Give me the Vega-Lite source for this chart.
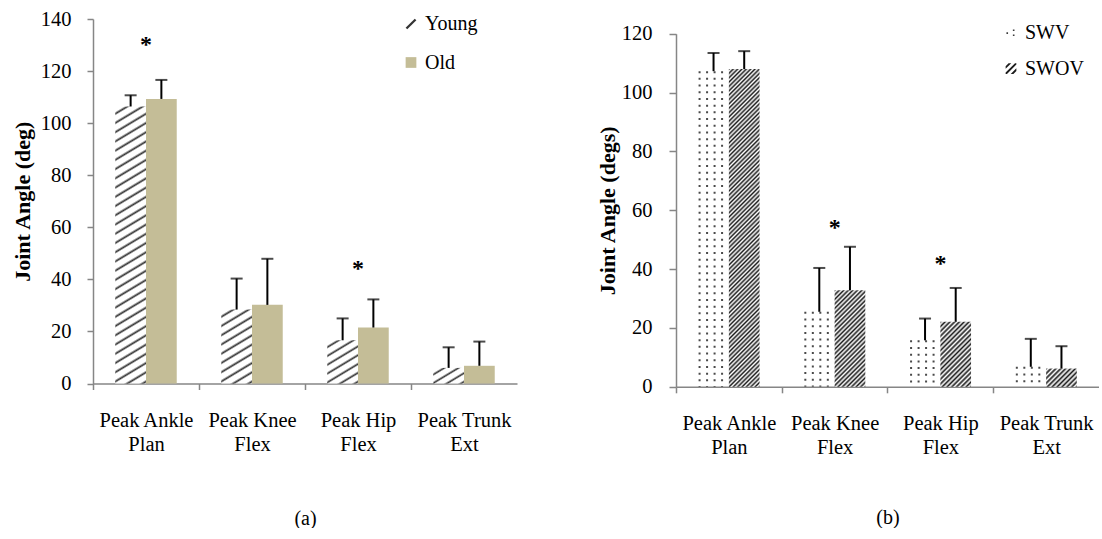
{
  "$schema": "https://vega.github.io/schema/vega-lite/v6.json",
  "padding": {"left": 11, "top": 9, "right": 0, "bottom": 0},
  "spacing": 79,
  "resolve": {"scale": {"color": "independent", "shape": "independent", "xOffset": "independent", "x": "independent", "y": "independent"}, "legend": {"color": "independent", "shape": "independent"}},
  "config": {
    "font": "Liberation Serif",
    "view": {"stroke": null},
    "axis": {"labelFont": "Liberation Serif", "titleFont": "Liberation Serif", "labelColor": "#000", "titleColor": "#000", "domainColor": "#868686", "tickColor": "#868686", "grid": false, "domainWidth": 1.5, "tickWidth": 1.5},
    "legend": {"labelFont": "Liberation Serif", "labelColor": "#000"}
  },
  "datasets": {
    "a": [
      {"cat": "Peak Ankle Plan", "group": "Young", "value": 106.4, "hi": 110.7},
      {"cat": "Peak Ankle Plan", "group": "Old", "value": 109.3, "hi": 116.6},
      {"cat": "Peak Knee Flex", "group": "Young", "value": 28.4, "hi": 40.3},
      {"cat": "Peak Knee Flex", "group": "Old", "value": 30.2, "hi": 47.9},
      {"cat": "Peak Hip Flex", "group": "Young", "value": 16.6, "hi": 25.0},
      {"cat": "Peak Hip Flex", "group": "Old", "value": 21.5, "hi": 32.3},
      {"cat": "Peak Trunk Ext", "group": "Young", "value": 6.0, "hi": 13.9},
      {"cat": "Peak Trunk Ext", "group": "Old", "value": 6.8, "hi": 16.1}
    ],
    "b": [
      {"cat": "Peak Ankle Plan", "group": "SWV", "value": 107.3, "hi": 113.5},
      {"cat": "Peak Ankle Plan", "group": "SWOV", "value": 108.0, "hi": 114.1},
      {"cat": "Peak Knee Flex", "group": "SWV", "value": 25.5, "hi": 40.4},
      {"cat": "Peak Knee Flex", "group": "SWOV", "value": 32.8, "hi": 47.6},
      {"cat": "Peak Hip Flex", "group": "SWV", "value": 15.8, "hi": 23.2},
      {"cat": "Peak Hip Flex", "group": "SWOV", "value": 22.1, "hi": 33.6},
      {"cat": "Peak Trunk Ext", "group": "SWV", "value": 6.8, "hi": 16.3},
      {"cat": "Peak Trunk Ext", "group": "SWOV", "value": 6.2, "hi": 13.8}
    ],
    "starsA": [
      {"cat": "Peak Ankle Plan", "value": 132, "label": "*"},
      {"cat": "Peak Hip Flex", "value": 46, "label": "*"}
    ],
    "starsB": [
      {"cat": "Peak Knee Flex", "value": 55.8, "label": "*"},
      {"cat": "Peak Hip Flex", "value": 43.3, "label": "*"}
    ]
  },
  "hconcat": [
    {
      "width": 424,
      "height": 364.5,
      "data": {"name": "a"},
      "encoding": {
        "x": {"field": "cat", "type": "nominal", "sort": ["Peak Ankle Plan", "Peak Knee Flex", "Peak Hip Flex", "Peak Trunk Ext"], "scale": {"paddingInner": 0.42, "paddingOuter": 0.21},
          "axis": {"title": "(a)", "labelAngle": 0, "labelExpr": "[slice(datum.value, 0, lastindexof(datum.value, ' ')), slice(datum.value, lastindexof(datum.value, ' ') + 1)]", "labelLineHeight": 24, "labelPadding": 21, "labelFontSize": 20.5, "titleFontSize": 20, "titleFontWeight": "normal", "titlePadding": 53, "tickOffset": -53, "labelOffset": 53, "tickSize": 6}},
        "y": {"field": "value", "type": "quantitative", "scale": {"domain": [0, 140], "nice": false},
          "axis": {"title": "Joint Angle (deg)", "values": [0, 20, 40, 60, 80, 100, 120, 140], "tickSize": 6, "labelPadding": 16, "titlePadding": 6, "titleFontSize": 22, "titleFontWeight": "bold", "labelFontSize": 20.5}}
      },
      "layer": [
        {
          "mark": {"type": "point", "filled": true, "fillOpacity": 0, "strokeOpacity": 0, "strokeWidth": 0},
          "encoding": {
            "xOffset": {"field": "group", "type": "nominal", "scale": {"domain": ["Young", "Old"], "paddingInner": 0, "paddingOuter": 0}},
            "color": {"field": "group", "type": "nominal", "scale": {"domain": ["Young", "Old"], "range": ["#333333", "#C4BD97"]},
              "legend": {"orient": "none", "legendX": 308, "legendY": -5, "title": null, "direction": "vertical", "labelFontSize": 20, "symbolSize": 115, "symbolStrokeWidth": 0, "symbolOpacity": 1, "symbolFillColor": "#333333", "labelOffset": 4, "rowPadding": 18.5, "padding": 0}},
            "shape": {"field": "group", "type": "nominal", "scale": {"domain": ["Young", "Old"], "range": ["M-1,0.7L0.7,-1L1,-0.7L-0.7,1Z", "square"]}}
          }
        },
        {
          "transform": [{"filter": "datum.group === 'Old'"}],
          "mark": {"type": "bar", "color": "#C4BD97"},
          "encoding": {"xOffset": {"field": "group", "type": "nominal"}}
        },
        {
          "transform": [{"filter": "datum.group === 'Young' && datum.cat === 'Peak Ankle Plan'"}],
          "mark": {"type": "bar", "color": {"gradient": "linear", "x1": 0, "y1": 0, "x2": 0.0707, "y2": 1.0619, "stops": [
            {"offset": 0, "color": "#fff"}, {"offset": 0.0172, "color": "#fff"}, {"offset": 0.025, "color": "#333"},
            {"offset": 0.0313, "color": "#fff"}, {"offset": 0.0484, "color": "#fff"}, {"offset": 0.0563, "color": "#333"},
            {"offset": 0.0625, "color": "#fff"}, {"offset": 0.0797, "color": "#fff"}, {"offset": 0.0875, "color": "#333"},
            {"offset": 0.0938, "color": "#fff"}, {"offset": 0.1109, "color": "#fff"}, {"offset": 0.1188, "color": "#333"},
            {"offset": 0.125, "color": "#fff"}, {"offset": 0.1422, "color": "#fff"}, {"offset": 0.15, "color": "#333"},
            {"offset": 0.1563, "color": "#fff"}, {"offset": 0.1734, "color": "#fff"}, {"offset": 0.1813, "color": "#333"},
            {"offset": 0.1875, "color": "#fff"}, {"offset": 0.2047, "color": "#fff"}, {"offset": 0.2125, "color": "#333"},
            {"offset": 0.2188, "color": "#fff"}, {"offset": 0.2359, "color": "#fff"}, {"offset": 0.2438, "color": "#333"},
            {"offset": 0.25, "color": "#fff"}, {"offset": 0.2672, "color": "#fff"}, {"offset": 0.275, "color": "#333"},
            {"offset": 0.2813, "color": "#fff"}, {"offset": 0.2984, "color": "#fff"}, {"offset": 0.3063, "color": "#333"},
            {"offset": 0.3125, "color": "#fff"}, {"offset": 0.3297, "color": "#fff"}, {"offset": 0.3375, "color": "#333"},
            {"offset": 0.3438, "color": "#fff"}, {"offset": 0.3609, "color": "#fff"}, {"offset": 0.3688, "color": "#333"},
            {"offset": 0.375, "color": "#fff"}, {"offset": 0.3922, "color": "#fff"}, {"offset": 0.4, "color": "#333"},
            {"offset": 0.4063, "color": "#fff"}, {"offset": 0.4234, "color": "#fff"}, {"offset": 0.4313, "color": "#333"},
            {"offset": 0.4375, "color": "#fff"}, {"offset": 0.4547, "color": "#fff"}, {"offset": 0.4625, "color": "#333"},
            {"offset": 0.4688, "color": "#fff"}, {"offset": 0.4859, "color": "#fff"}, {"offset": 0.4938, "color": "#333"},
            {"offset": 0.5, "color": "#fff"}, {"offset": 0.5172, "color": "#fff"}, {"offset": 0.525, "color": "#333"},
            {"offset": 0.5313, "color": "#fff"}, {"offset": 0.5484, "color": "#fff"}, {"offset": 0.5563, "color": "#333"},
            {"offset": 0.5625, "color": "#fff"}, {"offset": 0.5797, "color": "#fff"}, {"offset": 0.5875, "color": "#333"},
            {"offset": 0.5938, "color": "#fff"}, {"offset": 0.6109, "color": "#fff"}, {"offset": 0.6188, "color": "#333"},
            {"offset": 0.625, "color": "#fff"}, {"offset": 0.6422, "color": "#fff"}, {"offset": 0.65, "color": "#333"},
            {"offset": 0.6563, "color": "#fff"}, {"offset": 0.6734, "color": "#fff"}, {"offset": 0.6813, "color": "#333"},
            {"offset": 0.6875, "color": "#fff"}, {"offset": 0.7047, "color": "#fff"}, {"offset": 0.7125, "color": "#333"},
            {"offset": 0.7188, "color": "#fff"}, {"offset": 0.7359, "color": "#fff"}, {"offset": 0.7438, "color": "#333"},
            {"offset": 0.75, "color": "#fff"}, {"offset": 0.7672, "color": "#fff"}, {"offset": 0.775, "color": "#333"},
            {"offset": 0.7813, "color": "#fff"}, {"offset": 0.7984, "color": "#fff"}, {"offset": 0.8063, "color": "#333"},
            {"offset": 0.8125, "color": "#fff"}, {"offset": 0.8297, "color": "#fff"}, {"offset": 0.8375, "color": "#333"},
            {"offset": 0.8438, "color": "#fff"}, {"offset": 0.8609, "color": "#fff"}, {"offset": 0.8688, "color": "#333"},
            {"offset": 0.875, "color": "#fff"}, {"offset": 0.8922, "color": "#fff"}, {"offset": 0.9, "color": "#333"},
            {"offset": 0.9063, "color": "#fff"}, {"offset": 0.9234, "color": "#fff"}, {"offset": 0.9313, "color": "#333"},
            {"offset": 0.9375, "color": "#fff"}, {"offset": 0.9547, "color": "#fff"}, {"offset": 0.9625, "color": "#333"},
            {"offset": 0.9688, "color": "#fff"}, {"offset": 0.9859, "color": "#fff"}, {"offset": 0.9938, "color": "#333"},
            {"offset": 1, "color": "#fff"}]}},
          "encoding": {"xOffset": {"field": "group", "type": "nominal"}}
        },
        {
          "transform": [{"filter": "datum.group === 'Young' && datum.cat === 'Peak Knee Flex'"}],
          "mark": {"type": "bar", "color": {"gradient": "linear", "x1": 0, "y1": 0, "x2": 0.2932, "y2": 1.1762, "stops": [
            {"offset": 0, "color": "#fff"}, {"offset": 0.055, "color": "#fff"}, {"offset": 0.08, "color": "#333"},
            {"offset": 0.1, "color": "#fff"}, {"offset": 0.155, "color": "#fff"}, {"offset": 0.18, "color": "#333"},
            {"offset": 0.2, "color": "#fff"}, {"offset": 0.255, "color": "#fff"}, {"offset": 0.28, "color": "#333"},
            {"offset": 0.3, "color": "#fff"}, {"offset": 0.355, "color": "#fff"}, {"offset": 0.38, "color": "#333"},
            {"offset": 0.4, "color": "#fff"}, {"offset": 0.455, "color": "#fff"}, {"offset": 0.48, "color": "#333"},
            {"offset": 0.5, "color": "#fff"}, {"offset": 0.555, "color": "#fff"}, {"offset": 0.58, "color": "#333"},
            {"offset": 0.6, "color": "#fff"}, {"offset": 0.655, "color": "#fff"}, {"offset": 0.68, "color": "#333"},
            {"offset": 0.7, "color": "#fff"}, {"offset": 0.755, "color": "#fff"}, {"offset": 0.78, "color": "#333"},
            {"offset": 0.8, "color": "#fff"}, {"offset": 0.855, "color": "#fff"}, {"offset": 0.88, "color": "#333"},
            {"offset": 0.9, "color": "#fff"}, {"offset": 0.955, "color": "#fff"}, {"offset": 0.98, "color": "#333"},
            {"offset": 1, "color": "#fff"}]}},
          "encoding": {"xOffset": {"field": "group", "type": "nominal"}}
        },
        {
          "transform": [{"filter": "datum.group === 'Young' && datum.cat === 'Peak Hip Flex'"}],
          "mark": {"type": "bar", "color": {"gradient": "linear", "x1": 0, "y1": 0, "x2": 0.5155, "y2": 1.2069, "stops": [
            {"offset": 0, "color": "#fff"}, {"offset": 0.0786, "color": "#fff"}, {"offset": 0.1143, "color": "#333"},
            {"offset": 0.1429, "color": "#fff"}, {"offset": 0.2214, "color": "#fff"}, {"offset": 0.2571, "color": "#333"},
            {"offset": 0.2857, "color": "#fff"}, {"offset": 0.3643, "color": "#fff"}, {"offset": 0.4, "color": "#333"},
            {"offset": 0.4286, "color": "#fff"}, {"offset": 0.5071, "color": "#fff"}, {"offset": 0.5429, "color": "#333"},
            {"offset": 0.5714, "color": "#fff"}, {"offset": 0.65, "color": "#fff"}, {"offset": 0.6857, "color": "#333"},
            {"offset": 0.7143, "color": "#fff"}, {"offset": 0.7929, "color": "#fff"}, {"offset": 0.8286, "color": "#333"},
            {"offset": 0.8571, "color": "#fff"}, {"offset": 0.9357, "color": "#fff"}, {"offset": 0.9714, "color": "#333"},
            {"offset": 1, "color": "#fff"}]}},
          "encoding": {"xOffset": {"field": "group", "type": "nominal"}}
        },
        {
          "transform": [{"filter": "datum.group === 'Young' && datum.cat === 'Peak Trunk Ext'"}],
          "mark": {"type": "bar", "color": {"gradient": "linear", "x1": 0, "y1": 0, "x2": 1.0762, "y2": 0.9099, "stops": [
            {"offset": 0, "color": "#fff"}, {"offset": 0.1375, "color": "#fff"}, {"offset": 0.2, "color": "#333"},
            {"offset": 0.25, "color": "#fff"}, {"offset": 0.3875, "color": "#fff"}, {"offset": 0.45, "color": "#333"},
            {"offset": 0.5, "color": "#fff"}, {"offset": 0.6375, "color": "#fff"}, {"offset": 0.7, "color": "#333"},
            {"offset": 0.75, "color": "#fff"}, {"offset": 0.8875, "color": "#fff"}, {"offset": 0.95, "color": "#333"},
            {"offset": 1, "color": "#fff"}]}},
          "encoding": {"xOffset": {"field": "group", "type": "nominal"}}
        },
        {
          "mark": {"type": "rule", "color": "#000", "strokeWidth": 2},
          "encoding": {"xOffset": {"field": "group", "type": "nominal"}, "y2": {"field": "hi"}}
        },
        {
          "mark": {"type": "tick", "color": "#000", "thickness": 2, "size": 12, "orient": "horizontal"},
          "encoding": {"xOffset": {"field": "group", "type": "nominal"}, "y": {"field": "hi", "type": "quantitative", "title": "Joint Angle (deg)"}}
        },
        {
          "data": {"name": "starsA"},
          "mark": {"type": "text", "fontSize": 24, "fontWeight": "bold", "baseline": "alphabetic", "dy": 12, "color": "#000"},
          "encoding": {"text": {"field": "label"}}
        }
      ]
    },
    {
      "width": 423,
      "height": 367.8,
      "data": {"name": "b"},
      "encoding": {
        "x": {"field": "cat", "type": "nominal", "sort": ["Peak Ankle Plan", "Peak Knee Flex", "Peak Hip Flex", "Peak Trunk Ext"], "scale": {"paddingInner": 0.42, "paddingOuter": 0.21},
          "axis": {"title": "(b)", "labelAngle": 0, "labelExpr": "[slice(datum.value, 0, lastindexof(datum.value, ' ')), slice(datum.value, lastindexof(datum.value, ' ') + 1)]", "labelLineHeight": 24, "labelPadding": 21, "labelFontSize": 20.5, "titleFontSize": 20, "titleFontWeight": "normal", "titlePadding": 49, "tickOffset": -52.9, "labelOffset": 52.9, "tickSize": 6}},
        "y": {"field": "value", "type": "quantitative", "scale": {"domain": [0, 120], "nice": false, "range": [367.8, 14.8]},
          "axis": {"title": "Joint Angle (degs)", "values": [0, 20, 40, 60, 80, 100, 120], "tickSize": 7, "labelPadding": 17, "titlePadding": 1.5, "titleFontSize": 22, "titleFontWeight": "bold", "labelFontSize": 20.5}}
      },
      "layer": [
        {
          "mark": {"type": "point", "filled": true, "fillOpacity": 0, "strokeOpacity": 0, "strokeWidth": 0},
          "encoding": {
            "xOffset": {"field": "group", "type": "nominal", "scale": {"domain": ["SWV", "SWOV"], "paddingInner": 0, "paddingOuter": 0}},
            "color": {"field": "group", "type": "nominal", "scale": {"domain": ["SWV", "SWOV"], "range": ["#3a3a3a", "#1c1c1c"]},
              "legend": {"orient": "none", "legendX": 325, "legendY": 3.6, "title": null, "direction": "vertical", "labelFontSize": 20, "symbolSize": 115, "symbolStrokeWidth": 0, "symbolOpacity": 1, "symbolFillColor": "#262626", "labelOffset": 4, "rowPadding": 16, "padding": 0}},
            "shape": {"field": "group", "type": "nominal", "scale": {"domain": ["SWV", "SWOV"], "range": ["M-0.85,-0.05h0.3v0.3h-0.3Z M0.35,-0.6h0.3v0.3h-0.3Z M0.35,0.35h0.3v0.3h-0.3Z", "M-1,0.75L0.75,-1L1,-1L1,-0.75L-0.75,1L-1,1Z M-1,-0.45L-0.45,-1L0.05,-1L-1,0.05Z M-0.05,1L1,-0.05L1,0.45L0.45,1Z"]}}
          }
        },
        {
          "transform": [{"filter": "datum.group === 'SWV'"}],
          "mark": {"type": "rule", "color": "#4a4a4a", "strokeWidth": 2, "strokeDash": [2, 4.7], "xOffset": -29.3},
          "encoding": {"y2": {"datum": 0}}
        },
        {
          "transform": [{"filter": "datum.group === 'SWV'"}],
          "mark": {"type": "rule", "color": "#4a4a4a", "strokeWidth": 2, "strokeDash": [2, 4.7], "xOffset": -21.8},
          "encoding": {"y2": {"datum": 0}}
        },
        {
          "transform": [{"filter": "datum.group === 'SWV'"}],
          "mark": {"type": "rule", "color": "#4a4a4a", "strokeWidth": 2, "strokeDash": [2, 4.7], "xOffset": -14.3},
          "encoding": {"y2": {"datum": 0}}
        },
        {
          "transform": [{"filter": "datum.group === 'SWV'"}],
          "mark": {"type": "rule", "color": "#4a4a4a", "strokeWidth": 2, "strokeDash": [2, 4.7], "xOffset": -6.8},
          "encoding": {"y2": {"datum": 0}}
        },
        {
          "transform": [{"filter": "datum.group === 'SWOV' && datum.cat === 'Peak Ankle Plan'"}],
          "mark": {"type": "bar", "color": {"gradient": "linear", "x1": 0, "y1": 0, "x2": 0.105, "y2": 1.0865, "stops": [
            {"offset": 0, "color": "#1c1c1c"}, {"offset": 0.00625, "color": "#fff"}, {"offset": 0.0125, "color": "#1c1c1c"}, {"offset": 0.01875, "color": "#fff"}, {"offset": 0.025, "color": "#1c1c1c"}, {"offset": 0.03125, "color": "#fff"}, {"offset": 0.0375, "color": "#1c1c1c"}, {"offset": 0.04375, "color": "#fff"}, {"offset": 0.05, "color": "#1c1c1c"}, {"offset": 0.05625, "color": "#fff"}, {"offset": 0.0625, "color": "#1c1c1c"}, {"offset": 0.06875, "color": "#fff"}, {"offset": 0.075, "color": "#1c1c1c"}, {"offset": 0.08125, "color": "#fff"}, {"offset": 0.0875, "color": "#1c1c1c"}, {"offset": 0.09375, "color": "#fff"},
            {"offset": 0.1, "color": "#1c1c1c"}, {"offset": 0.10625, "color": "#fff"}, {"offset": 0.1125, "color": "#1c1c1c"}, {"offset": 0.11875, "color": "#fff"}, {"offset": 0.125, "color": "#1c1c1c"}, {"offset": 0.13125, "color": "#fff"}, {"offset": 0.1375, "color": "#1c1c1c"}, {"offset": 0.14375, "color": "#fff"}, {"offset": 0.15, "color": "#1c1c1c"}, {"offset": 0.15625, "color": "#fff"}, {"offset": 0.1625, "color": "#1c1c1c"}, {"offset": 0.16875, "color": "#fff"}, {"offset": 0.175, "color": "#1c1c1c"}, {"offset": 0.18125, "color": "#fff"}, {"offset": 0.1875, "color": "#1c1c1c"}, {"offset": 0.19375, "color": "#fff"},
            {"offset": 0.2, "color": "#1c1c1c"}, {"offset": 0.20625, "color": "#fff"}, {"offset": 0.2125, "color": "#1c1c1c"}, {"offset": 0.21875, "color": "#fff"}, {"offset": 0.225, "color": "#1c1c1c"}, {"offset": 0.23125, "color": "#fff"}, {"offset": 0.2375, "color": "#1c1c1c"}, {"offset": 0.24375, "color": "#fff"}, {"offset": 0.25, "color": "#1c1c1c"}, {"offset": 0.25625, "color": "#fff"}, {"offset": 0.2625, "color": "#1c1c1c"}, {"offset": 0.26875, "color": "#fff"}, {"offset": 0.275, "color": "#1c1c1c"}, {"offset": 0.28125, "color": "#fff"}, {"offset": 0.2875, "color": "#1c1c1c"}, {"offset": 0.29375, "color": "#fff"},
            {"offset": 0.3, "color": "#1c1c1c"}, {"offset": 0.30625, "color": "#fff"}, {"offset": 0.3125, "color": "#1c1c1c"}, {"offset": 0.31875, "color": "#fff"}, {"offset": 0.325, "color": "#1c1c1c"}, {"offset": 0.33125, "color": "#fff"}, {"offset": 0.3375, "color": "#1c1c1c"}, {"offset": 0.34375, "color": "#fff"}, {"offset": 0.35, "color": "#1c1c1c"}, {"offset": 0.35625, "color": "#fff"}, {"offset": 0.3625, "color": "#1c1c1c"}, {"offset": 0.36875, "color": "#fff"}, {"offset": 0.375, "color": "#1c1c1c"}, {"offset": 0.38125, "color": "#fff"}, {"offset": 0.3875, "color": "#1c1c1c"}, {"offset": 0.39375, "color": "#fff"},
            {"offset": 0.4, "color": "#1c1c1c"}, {"offset": 0.40625, "color": "#fff"}, {"offset": 0.4125, "color": "#1c1c1c"}, {"offset": 0.41875, "color": "#fff"}, {"offset": 0.425, "color": "#1c1c1c"}, {"offset": 0.43125, "color": "#fff"}, {"offset": 0.4375, "color": "#1c1c1c"}, {"offset": 0.44375, "color": "#fff"}, {"offset": 0.45, "color": "#1c1c1c"}, {"offset": 0.45625, "color": "#fff"}, {"offset": 0.4625, "color": "#1c1c1c"}, {"offset": 0.46875, "color": "#fff"}, {"offset": 0.475, "color": "#1c1c1c"}, {"offset": 0.48125, "color": "#fff"}, {"offset": 0.4875, "color": "#1c1c1c"}, {"offset": 0.49375, "color": "#fff"},
            {"offset": 0.5, "color": "#1c1c1c"}, {"offset": 0.50625, "color": "#fff"}, {"offset": 0.5125, "color": "#1c1c1c"}, {"offset": 0.51875, "color": "#fff"}, {"offset": 0.525, "color": "#1c1c1c"}, {"offset": 0.53125, "color": "#fff"}, {"offset": 0.5375, "color": "#1c1c1c"}, {"offset": 0.54375, "color": "#fff"}, {"offset": 0.55, "color": "#1c1c1c"}, {"offset": 0.55625, "color": "#fff"}, {"offset": 0.5625, "color": "#1c1c1c"}, {"offset": 0.56875, "color": "#fff"}, {"offset": 0.575, "color": "#1c1c1c"}, {"offset": 0.58125, "color": "#fff"}, {"offset": 0.5875, "color": "#1c1c1c"}, {"offset": 0.59375, "color": "#fff"},
            {"offset": 0.6, "color": "#1c1c1c"}, {"offset": 0.60625, "color": "#fff"}, {"offset": 0.6125, "color": "#1c1c1c"}, {"offset": 0.61875, "color": "#fff"}, {"offset": 0.625, "color": "#1c1c1c"}, {"offset": 0.63125, "color": "#fff"}, {"offset": 0.6375, "color": "#1c1c1c"}, {"offset": 0.64375, "color": "#fff"}, {"offset": 0.65, "color": "#1c1c1c"}, {"offset": 0.65625, "color": "#fff"}, {"offset": 0.6625, "color": "#1c1c1c"}, {"offset": 0.66875, "color": "#fff"}, {"offset": 0.675, "color": "#1c1c1c"}, {"offset": 0.68125, "color": "#fff"}, {"offset": 0.6875, "color": "#1c1c1c"}, {"offset": 0.69375, "color": "#fff"},
            {"offset": 0.7, "color": "#1c1c1c"}, {"offset": 0.70625, "color": "#fff"}, {"offset": 0.7125, "color": "#1c1c1c"}, {"offset": 0.71875, "color": "#fff"}, {"offset": 0.725, "color": "#1c1c1c"}, {"offset": 0.73125, "color": "#fff"}, {"offset": 0.7375, "color": "#1c1c1c"}, {"offset": 0.74375, "color": "#fff"}, {"offset": 0.75, "color": "#1c1c1c"}, {"offset": 0.75625, "color": "#fff"}, {"offset": 0.7625, "color": "#1c1c1c"}, {"offset": 0.76875, "color": "#fff"}, {"offset": 0.775, "color": "#1c1c1c"}, {"offset": 0.78125, "color": "#fff"}, {"offset": 0.7875, "color": "#1c1c1c"}, {"offset": 0.79375, "color": "#fff"},
            {"offset": 0.8, "color": "#1c1c1c"}, {"offset": 0.80625, "color": "#fff"}, {"offset": 0.8125, "color": "#1c1c1c"}, {"offset": 0.81875, "color": "#fff"}, {"offset": 0.825, "color": "#1c1c1c"}, {"offset": 0.83125, "color": "#fff"}, {"offset": 0.8375, "color": "#1c1c1c"}, {"offset": 0.84375, "color": "#fff"}, {"offset": 0.85, "color": "#1c1c1c"}, {"offset": 0.85625, "color": "#fff"}, {"offset": 0.8625, "color": "#1c1c1c"}, {"offset": 0.86875, "color": "#fff"}, {"offset": 0.875, "color": "#1c1c1c"}, {"offset": 0.88125, "color": "#fff"}, {"offset": 0.8875, "color": "#1c1c1c"}, {"offset": 0.89375, "color": "#fff"},
            {"offset": 0.9, "color": "#1c1c1c"}, {"offset": 0.90625, "color": "#fff"}, {"offset": 0.9125, "color": "#1c1c1c"}, {"offset": 0.91875, "color": "#fff"}, {"offset": 0.925, "color": "#1c1c1c"}, {"offset": 0.93125, "color": "#fff"}, {"offset": 0.9375, "color": "#1c1c1c"}, {"offset": 0.94375, "color": "#fff"}, {"offset": 0.95, "color": "#1c1c1c"}, {"offset": 0.95625, "color": "#fff"}, {"offset": 0.9625, "color": "#1c1c1c"}, {"offset": 0.96875, "color": "#fff"}, {"offset": 0.975, "color": "#1c1c1c"}, {"offset": 0.98125, "color": "#fff"}, {"offset": 0.9875, "color": "#1c1c1c"}, {"offset": 0.99375, "color": "#fff"},
            {"offset": 1, "color": "#1c1c1c"}]}},
          "encoding": {"xOffset": {"field": "group", "type": "nominal"}}
        },
        {
          "transform": [{"filter": "datum.group === 'SWOV' && datum.cat === 'Peak Knee Flex'"}],
          "mark": {"type": "bar", "color": {"gradient": "linear", "x1": 0, "y1": 0, "x2": 0.3808, "y2": 1.197, "stops": [
            {"offset": 0, "color": "#1c1c1c"}, {"offset": 0.0179, "color": "#fff"}, {"offset": 0.0357, "color": "#1c1c1c"}, {"offset": 0.0536, "color": "#fff"}, {"offset": 0.0714, "color": "#1c1c1c"}, {"offset": 0.0893, "color": "#fff"}, {"offset": 0.1071, "color": "#1c1c1c"}, {"offset": 0.125, "color": "#fff"},
            {"offset": 0.1429, "color": "#1c1c1c"}, {"offset": 0.1607, "color": "#fff"}, {"offset": 0.1786, "color": "#1c1c1c"}, {"offset": 0.1964, "color": "#fff"}, {"offset": 0.2143, "color": "#1c1c1c"}, {"offset": 0.2321, "color": "#fff"}, {"offset": 0.25, "color": "#1c1c1c"}, {"offset": 0.2679, "color": "#fff"},
            {"offset": 0.2857, "color": "#1c1c1c"}, {"offset": 0.3036, "color": "#fff"}, {"offset": 0.3214, "color": "#1c1c1c"}, {"offset": 0.3393, "color": "#fff"}, {"offset": 0.3571, "color": "#1c1c1c"}, {"offset": 0.375, "color": "#fff"}, {"offset": 0.3929, "color": "#1c1c1c"}, {"offset": 0.4107, "color": "#fff"},
            {"offset": 0.4286, "color": "#1c1c1c"}, {"offset": 0.4464, "color": "#fff"}, {"offset": 0.4643, "color": "#1c1c1c"}, {"offset": 0.4821, "color": "#fff"}, {"offset": 0.5, "color": "#1c1c1c"}, {"offset": 0.5179, "color": "#fff"}, {"offset": 0.5357, "color": "#1c1c1c"}, {"offset": 0.5536, "color": "#fff"},
            {"offset": 0.5714, "color": "#1c1c1c"}, {"offset": 0.5893, "color": "#fff"}, {"offset": 0.6071, "color": "#1c1c1c"}, {"offset": 0.625, "color": "#fff"}, {"offset": 0.6429, "color": "#1c1c1c"}, {"offset": 0.6607, "color": "#fff"}, {"offset": 0.6786, "color": "#1c1c1c"}, {"offset": 0.6964, "color": "#fff"},
            {"offset": 0.7143, "color": "#1c1c1c"}, {"offset": 0.7321, "color": "#fff"}, {"offset": 0.75, "color": "#1c1c1c"}, {"offset": 0.7679, "color": "#fff"}, {"offset": 0.7857, "color": "#1c1c1c"}, {"offset": 0.8036, "color": "#fff"}, {"offset": 0.8214, "color": "#1c1c1c"}, {"offset": 0.8393, "color": "#fff"},
            {"offset": 0.8571, "color": "#1c1c1c"}, {"offset": 0.875, "color": "#fff"}, {"offset": 0.8929, "color": "#1c1c1c"}, {"offset": 0.9107, "color": "#fff"}, {"offset": 0.9286, "color": "#1c1c1c"}, {"offset": 0.9464, "color": "#fff"}, {"offset": 0.9643, "color": "#1c1c1c"}, {"offset": 0.9821, "color": "#fff"},
            {"offset": 1, "color": "#1c1c1c"}]}},
          "encoding": {"xOffset": {"field": "group", "type": "nominal"}}
        },
        {
          "transform": [{"filter": "datum.group === 'SWOV' && datum.cat === 'Peak Hip Flex'"}],
          "mark": {"type": "bar", "color": {"gradient": "linear", "x1": 0, "y1": 0, "x2": 0.5686, "y2": 1.2038, "stops": [
            {"offset": 0, "color": "#1c1c1c"}, {"offset": 0.025, "color": "#fff"}, {"offset": 0.05, "color": "#1c1c1c"}, {"offset": 0.075, "color": "#fff"}, {"offset": 0.1, "color": "#1c1c1c"}, {"offset": 0.125, "color": "#fff"}, {"offset": 0.15, "color": "#1c1c1c"}, {"offset": 0.175, "color": "#fff"},
            {"offset": 0.2, "color": "#1c1c1c"}, {"offset": 0.225, "color": "#fff"}, {"offset": 0.25, "color": "#1c1c1c"}, {"offset": 0.275, "color": "#fff"}, {"offset": 0.3, "color": "#1c1c1c"}, {"offset": 0.325, "color": "#fff"}, {"offset": 0.35, "color": "#1c1c1c"}, {"offset": 0.375, "color": "#fff"},
            {"offset": 0.4, "color": "#1c1c1c"}, {"offset": 0.425, "color": "#fff"}, {"offset": 0.45, "color": "#1c1c1c"}, {"offset": 0.475, "color": "#fff"}, {"offset": 0.5, "color": "#1c1c1c"}, {"offset": 0.525, "color": "#fff"}, {"offset": 0.55, "color": "#1c1c1c"}, {"offset": 0.575, "color": "#fff"},
            {"offset": 0.6, "color": "#1c1c1c"}, {"offset": 0.625, "color": "#fff"}, {"offset": 0.65, "color": "#1c1c1c"}, {"offset": 0.675, "color": "#fff"}, {"offset": 0.7, "color": "#1c1c1c"}, {"offset": 0.725, "color": "#fff"}, {"offset": 0.75, "color": "#1c1c1c"}, {"offset": 0.775, "color": "#fff"},
            {"offset": 0.8, "color": "#1c1c1c"}, {"offset": 0.825, "color": "#fff"}, {"offset": 0.85, "color": "#1c1c1c"}, {"offset": 0.875, "color": "#fff"}, {"offset": 0.9, "color": "#1c1c1c"}, {"offset": 0.925, "color": "#fff"}, {"offset": 0.95, "color": "#1c1c1c"}, {"offset": 0.975, "color": "#fff"},
            {"offset": 1, "color": "#1c1c1c"}]}},
          "encoding": {"xOffset": {"field": "group", "type": "nominal"}}
        },
        {
          "transform": [{"filter": "datum.group === 'SWOV' && datum.cat === 'Peak Trunk Ext'"}],
          "mark": {"type": "bar", "color": {"gradient": "linear", "x1": 0, "y1": 0, "x2": 1.1786, "y2": 0.6987, "stops": [
            {"offset": 0, "color": "#1c1c1c"}, {"offset": 0.05, "color": "#fff"}, {"offset": 0.1, "color": "#1c1c1c"}, {"offset": 0.15, "color": "#fff"}, {"offset": 0.2, "color": "#1c1c1c"}, {"offset": 0.25, "color": "#fff"}, {"offset": 0.3, "color": "#1c1c1c"}, {"offset": 0.35, "color": "#fff"},
            {"offset": 0.4, "color": "#1c1c1c"}, {"offset": 0.45, "color": "#fff"}, {"offset": 0.5, "color": "#1c1c1c"}, {"offset": 0.55, "color": "#fff"}, {"offset": 0.6, "color": "#1c1c1c"}, {"offset": 0.65, "color": "#fff"}, {"offset": 0.7, "color": "#1c1c1c"}, {"offset": 0.75, "color": "#fff"},
            {"offset": 0.8, "color": "#1c1c1c"}, {"offset": 0.85, "color": "#fff"}, {"offset": 0.9, "color": "#1c1c1c"}, {"offset": 0.95, "color": "#fff"}, {"offset": 1, "color": "#1c1c1c"}]}},
          "encoding": {"xOffset": {"field": "group", "type": "nominal"}}
        },
        {
          "mark": {"type": "rule", "color": "#000", "strokeWidth": 2},
          "encoding": {"xOffset": {"field": "group", "type": "nominal"}, "y2": {"field": "hi"}}
        },
        {
          "mark": {"type": "tick", "color": "#000", "thickness": 2, "size": 12, "orient": "horizontal"},
          "encoding": {"xOffset": {"field": "group", "type": "nominal"}, "y": {"field": "hi", "type": "quantitative", "title": "Joint Angle (degs)"}}
        },
        {
          "data": {"name": "starsB"},
          "mark": {"type": "text", "fontSize": 24, "fontWeight": "bold", "baseline": "alphabetic", "dy": 12, "color": "#000"},
          "encoding": {"text": {"field": "label"}}
        }
      ]
    }
  ]
}
